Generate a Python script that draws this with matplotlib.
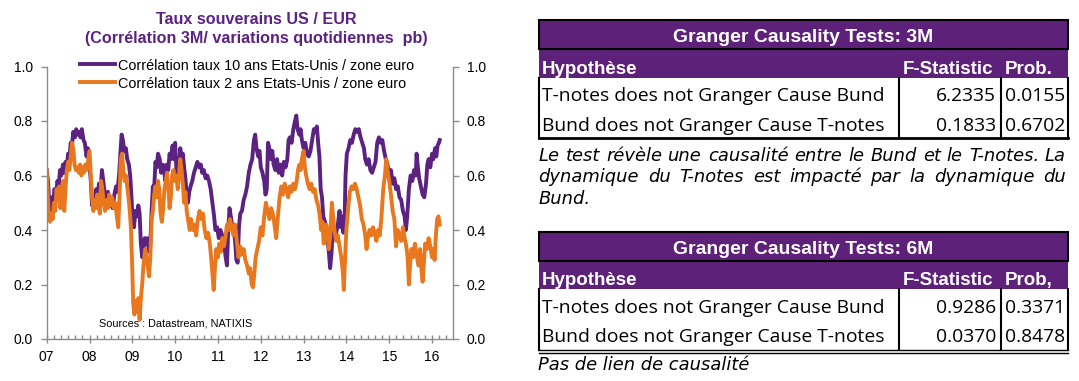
import matplotlib
matplotlib.use('Agg')
import matplotlib.pyplot as plt
from matplotlib.patches import Rectangle
from matplotlib.lines import Line2D
from matplotlib.ticker import MultipleLocator

plt.rcParams['font.family'] = ['Liberation Sans', 'DejaVu Sans']

# ---------------- data ----------------
chart_title = ["Taux souverains US / EUR", "(Corrélation 3M/ variations quotidiennes  pb)"]
series_labels = ["Corrélation taux 10 ans Etats-Unis / zone euro",
                 "Corrélation taux 2 ans Etats-Unis / zone euro"]
source_text = "Sources : Datastream, NATIXIS"
year_ticks = [2007, 2008, 2009, 2010, 2011, 2012, 2013, 2014, 2015, 2016]
year_labels = ["07", "08", "09", "10", "11", "12", "13", "14", "15", "16"]
ytick_vals = [0.0, 0.2, 0.4, 0.6, 0.8, 1.0]

ten_year_t = [
    2007.00, 2007.03, 2007.06, 2007.09, 2007.12, 2007.15, 2007.18, 2007.22, 2007.25, 2007.28,
    2007.31, 2007.34, 2007.38, 2007.41, 2007.44, 2007.47, 2007.50, 2007.53, 2007.56, 2007.59,
    2007.62, 2007.66, 2007.69, 2007.72, 2007.76, 2007.79, 2007.82, 2007.86, 2007.89, 2007.93,
    2007.96, 2008.00, 2008.03, 2008.06, 2008.09, 2008.12, 2008.16, 2008.19, 2008.22, 2008.26,
    2008.29, 2008.32, 2008.36, 2008.39, 2008.43, 2008.46, 2008.50, 2008.54, 2008.58, 2008.62,
    2008.65, 2008.69, 2008.72, 2008.75, 2008.78, 2008.81, 2008.85, 2008.88, 2008.92, 2008.95,
    2008.98, 2009.01, 2009.04, 2009.07, 2009.10, 2009.14, 2009.17, 2009.20, 2009.23, 2009.26,
    2009.29, 2009.32, 2009.35, 2009.39, 2009.42, 2009.45, 2009.48, 2009.51, 2009.54, 2009.57,
    2009.60, 2009.64, 2009.67, 2009.71, 2009.74, 2009.77, 2009.80, 2009.84, 2009.87, 2009.90,
    2009.94, 2009.97, 2010.00, 2010.03, 2010.06, 2010.09, 2010.12, 2010.15, 2010.18, 2010.21,
    2010.24, 2010.27, 2010.30, 2010.33, 2010.36, 2010.40, 2010.44, 2010.48, 2010.52, 2010.56,
    2010.60, 2010.63, 2010.67, 2010.71, 2010.75, 2010.79, 2010.83, 2010.87, 2010.91, 2010.94,
    2010.98, 2011.02, 2011.06, 2011.10, 2011.14, 2011.18, 2011.21, 2011.24, 2011.27, 2011.30,
    2011.33, 2011.37, 2011.40, 2011.43, 2011.46, 2011.49, 2011.52, 2011.56, 2011.60, 2011.64,
    2011.68, 2011.72, 2011.76, 2011.80, 2011.84, 2011.87, 2011.90, 2011.94, 2011.97, 2012.00,
    2012.04, 2012.08, 2012.11, 2012.14, 2012.17, 2012.20, 2012.24, 2012.27, 2012.30, 2012.34,
    2012.38, 2012.42, 2012.46, 2012.50, 2012.54, 2012.58, 2012.62, 2012.65, 2012.68, 2012.72,
    2012.76, 2012.80, 2012.83, 2012.86, 2012.90, 2012.93, 2012.96, 2013.00, 2013.04, 2013.08,
    2013.12, 2013.16, 2013.20, 2013.24, 2013.28, 2013.31, 2013.34, 2013.37, 2013.40, 2013.43,
    2013.46, 2013.50, 2013.53, 2013.56, 2013.59, 2013.62, 2013.65, 2013.68, 2013.72, 2013.76,
    2013.80, 2013.84, 2013.87, 2013.90, 2013.93, 2013.96, 2013.98, 2014.01, 2014.05, 2014.09,
    2014.13, 2014.17, 2014.21, 2014.25, 2014.29, 2014.33, 2014.37, 2014.41, 2014.44, 2014.48,
    2014.52, 2014.56, 2014.60, 2014.64, 2014.68, 2014.72, 2014.76, 2014.80, 2014.84, 2014.88,
    2014.92, 2014.96, 2015.00, 2015.04, 2015.08, 2015.12, 2015.16, 2015.20, 2015.24, 2015.28,
    2015.32, 2015.36, 2015.39, 2015.42, 2015.46, 2015.50, 2015.54, 2015.58, 2015.62, 2015.64,
    2015.67, 2015.70, 2015.74, 2015.78, 2015.82, 2015.86, 2015.89, 2015.92, 2015.96, 2016.00,
    2016.03, 2016.07, 2016.10, 2016.13, 2016.16, 2016.18]
ten_year_v = [
    0.62, 0.58, 0.50, 0.47, 0.52, 0.49, 0.55, 0.53, 0.58, 0.56,
    0.62, 0.60, 0.64, 0.61, 0.65, 0.63, 0.68, 0.66, 0.72, 0.71,
    0.76, 0.74, 0.77, 0.75, 0.76, 0.74, 0.77, 0.73, 0.72, 0.67,
    0.70, 0.64, 0.58, 0.49, 0.52, 0.50, 0.55, 0.51, 0.57, 0.55,
    0.62, 0.58, 0.53, 0.50, 0.54, 0.49, 0.51, 0.48, 0.53, 0.56,
    0.54, 0.60, 0.68, 0.75, 0.73, 0.69, 0.70, 0.66, 0.64, 0.60,
    0.52, 0.43, 0.41, 0.47, 0.45, 0.49, 0.46, 0.35, 0.30, 0.33,
    0.37, 0.35, 0.37, 0.32, 0.35, 0.47, 0.56, 0.55, 0.65, 0.63,
    0.68, 0.66, 0.61, 0.64, 0.62, 0.58, 0.64, 0.62, 0.68, 0.66,
    0.71, 0.66, 0.72, 0.62, 0.57, 0.63, 0.70, 0.66, 0.68, 0.63,
    0.59, 0.52, 0.50, 0.54, 0.56, 0.58, 0.61, 0.63, 0.65, 0.63,
    0.64, 0.61, 0.62, 0.59, 0.60, 0.58, 0.55, 0.50, 0.45, 0.40,
    0.41, 0.37, 0.40, 0.38, 0.36, 0.30, 0.27, 0.40, 0.48, 0.45,
    0.42, 0.40, 0.36, 0.29, 0.28, 0.41, 0.46, 0.47, 0.51, 0.53,
    0.56, 0.61, 0.64, 0.66, 0.73, 0.75, 0.70, 0.67, 0.69, 0.63,
    0.61, 0.58, 0.53, 0.55, 0.72, 0.70, 0.66, 0.69, 0.64, 0.62,
    0.66, 0.61, 0.64, 0.60, 0.65, 0.63, 0.66, 0.73, 0.74, 0.72,
    0.77, 0.80, 0.82, 0.77, 0.75, 0.77, 0.73, 0.70, 0.72, 0.68,
    0.67, 0.69, 0.73, 0.77, 0.76, 0.78, 0.72, 0.67, 0.55, 0.52,
    0.45, 0.43, 0.40, 0.36, 0.32, 0.26, 0.31, 0.40, 0.37, 0.39,
    0.42, 0.47, 0.41, 0.45, 0.39, 0.45, 0.60, 0.68, 0.70, 0.73,
    0.72, 0.75, 0.77, 0.76, 0.77, 0.74, 0.72, 0.70, 0.66, 0.64,
    0.66, 0.62, 0.61, 0.63, 0.65, 0.72, 0.74, 0.72, 0.73, 0.69,
    0.66, 0.64, 0.60, 0.62, 0.57, 0.59, 0.55, 0.56, 0.52, 0.51,
    0.47, 0.45, 0.40, 0.45, 0.55, 0.60, 0.58, 0.62, 0.60, 0.68,
    0.63, 0.59, 0.56, 0.53, 0.52, 0.57, 0.64, 0.66, 0.63, 0.68,
    0.66, 0.70, 0.67, 0.71, 0.72, 0.73]

two_year_t = [
    2007.00, 2007.02, 2007.05, 2007.08, 2007.11, 2007.14, 2007.17, 2007.20, 2007.23, 2007.26,
    2007.29, 2007.32, 2007.35, 2007.38, 2007.41, 2007.44, 2007.47, 2007.50, 2007.53, 2007.56,
    2007.59, 2007.62, 2007.65, 2007.68, 2007.72, 2007.75, 2007.78, 2007.81, 2007.84, 2007.87,
    2007.90, 2007.93, 2007.97, 2008.00, 2008.03, 2008.06, 2008.09, 2008.12, 2008.15, 2008.18,
    2008.21, 2008.24, 2008.27, 2008.30, 2008.33, 2008.36, 2008.40, 2008.43, 2008.46, 2008.50,
    2008.53, 2008.57, 2008.60, 2008.64, 2008.67, 2008.70, 2008.73, 2008.76, 2008.79, 2008.82,
    2008.85, 2008.88, 2008.91, 2008.94, 2008.97, 2009.00, 2009.02, 2009.05, 2009.08, 2009.11,
    2009.14, 2009.17, 2009.20, 2009.23, 2009.26, 2009.30, 2009.33, 2009.36, 2009.39, 2009.42,
    2009.45, 2009.48, 2009.51, 2009.54, 2009.57, 2009.60, 2009.63, 2009.66, 2009.69, 2009.72,
    2009.75, 2009.78, 2009.81, 2009.84, 2009.87, 2009.90, 2009.93, 2009.96, 2010.00, 2010.03,
    2010.06, 2010.09, 2010.12, 2010.15, 2010.18, 2010.21, 2010.24, 2010.27, 2010.30, 2010.34,
    2010.37, 2010.41, 2010.45, 2010.49, 2010.53, 2010.57, 2010.61, 2010.65, 2010.69, 2010.73,
    2010.77, 2010.81, 2010.84, 2010.87, 2010.90, 2010.93, 2010.96, 2011.00, 2011.03, 2011.07,
    2011.10, 2011.14, 2011.18, 2011.21, 2011.25, 2011.28, 2011.32, 2011.36, 2011.40, 2011.44,
    2011.48, 2011.52, 2011.56, 2011.60, 2011.64, 2011.68, 2011.72, 2011.75, 2011.79, 2011.82,
    2011.85, 2011.88, 2011.92, 2011.96, 2012.00, 2012.04, 2012.08, 2012.12, 2012.16, 2012.20,
    2012.24, 2012.28, 2012.32, 2012.36, 2012.40, 2012.44, 2012.48, 2012.52, 2012.56, 2012.60,
    2012.64, 2012.68, 2012.72, 2012.76, 2012.80, 2012.84, 2012.87, 2012.90, 2012.93, 2012.96,
    2013.00, 2013.03, 2013.06, 2013.10, 2013.14, 2013.18, 2013.22, 2013.26, 2013.30, 2013.34,
    2013.38, 2013.41, 2013.44, 2013.47, 2013.50, 2013.53, 2013.56, 2013.59, 2013.62, 2013.66,
    2013.69, 2013.72, 2013.76, 2013.80, 2013.84, 2013.88, 2013.92, 2013.94, 2013.97, 2014.00,
    2014.04, 2014.08, 2014.12, 2014.16, 2014.20, 2014.24, 2014.28, 2014.32, 2014.36, 2014.40,
    2014.44, 2014.47, 2014.50, 2014.54, 2014.58, 2014.62, 2014.66, 2014.70, 2014.74, 2014.78,
    2014.82, 2014.86, 2014.90, 2014.93, 2014.96, 2015.00, 2015.04, 2015.08, 2015.12, 2015.16,
    2015.20, 2015.24, 2015.28, 2015.32, 2015.36, 2015.40, 2015.43, 2015.46, 2015.49, 2015.52,
    2015.56, 2015.60, 2015.64, 2015.68, 2015.72, 2015.75, 2015.78, 2015.81, 2015.84, 2015.88,
    2015.92, 2015.96, 2016.00, 2016.03, 2016.06, 2016.09, 2016.12, 2016.15, 2016.18]
two_year_v = [
    0.62, 0.55, 0.45, 0.43, 0.46, 0.44, 0.50, 0.47, 0.55, 0.51,
    0.56, 0.48, 0.54, 0.58, 0.47, 0.55, 0.62, 0.65, 0.62, 0.67,
    0.72, 0.70, 0.64, 0.62, 0.63, 0.61, 0.64, 0.60, 0.63, 0.61,
    0.64, 0.62, 0.66, 0.69, 0.60, 0.52, 0.47, 0.51, 0.48, 0.53,
    0.50, 0.46, 0.58, 0.55, 0.50, 0.47, 0.51, 0.48, 0.53, 0.49,
    0.52, 0.48, 0.50, 0.45, 0.41, 0.52, 0.66, 0.68, 0.62, 0.58,
    0.60, 0.56, 0.52, 0.47, 0.40, 0.25, 0.13, 0.09, 0.14, 0.10,
    0.15, 0.07, 0.15, 0.20, 0.27, 0.33, 0.30, 0.27, 0.23, 0.30,
    0.44, 0.47, 0.53, 0.56, 0.52, 0.58, 0.55, 0.46, 0.43, 0.48,
    0.55, 0.58, 0.61, 0.56, 0.48, 0.52, 0.60, 0.62, 0.58, 0.60,
    0.55, 0.60, 0.66, 0.62, 0.57, 0.50, 0.54, 0.47, 0.44, 0.40,
    0.44, 0.40, 0.42, 0.38, 0.44, 0.47, 0.44, 0.46, 0.40, 0.37,
    0.39, 0.35, 0.30, 0.24, 0.18, 0.26, 0.33, 0.30, 0.35, 0.32,
    0.37, 0.34, 0.38, 0.42, 0.40, 0.44, 0.41, 0.38, 0.42, 0.36,
    0.30, 0.34, 0.31, 0.33, 0.29, 0.27, 0.24, 0.26, 0.20, 0.19,
    0.24, 0.30, 0.33, 0.36, 0.41, 0.38, 0.45, 0.50, 0.47, 0.44,
    0.48, 0.46, 0.42, 0.37, 0.45, 0.52, 0.56, 0.53, 0.57, 0.55,
    0.52, 0.56, 0.54, 0.57, 0.55, 0.58, 0.62, 0.64, 0.62, 0.66,
    0.69, 0.63, 0.60, 0.57, 0.55, 0.57, 0.54, 0.55, 0.51, 0.49,
    0.45, 0.40, 0.43, 0.35, 0.38, 0.42, 0.39, 0.33, 0.37, 0.50,
    0.45, 0.40, 0.36, 0.38, 0.34, 0.30, 0.24, 0.18, 0.30, 0.40,
    0.48, 0.54, 0.56, 0.55, 0.57, 0.55, 0.52, 0.49, 0.44, 0.42,
    0.38, 0.33, 0.37, 0.40, 0.38, 0.41, 0.39, 0.36, 0.40, 0.38,
    0.45, 0.55, 0.60, 0.66, 0.62, 0.58, 0.53, 0.47, 0.44, 0.34,
    0.40, 0.38, 0.36, 0.41, 0.37, 0.34, 0.30, 0.20, 0.28, 0.33,
    0.30, 0.35, 0.31, 0.27, 0.33, 0.26, 0.21, 0.28, 0.35, 0.33,
    0.37, 0.34, 0.30, 0.33, 0.29, 0.38, 0.44, 0.45, 0.42]

table_titles = ["Granger Causality Tests: 3M", "Granger Causality Tests: 6M"]
table_headers = [["Hypothèse", "F-Statistic", "Prob."],
                 ["Hypothèse", "F-Statistic", "Prob,"]]
hypotheses = ["T-notes does not Granger Cause Bund", "Bund does not Granger Cause T-notes"]
fstat_3m = [6.2335, 0.1833]
prob_3m = [0.0155, 0.6702]
fstat_6m = [0.9286, 0.0370]
prob_6m = [0.3371, 0.8478]
note_3m = ["Le test révèle une causalité entre le Bund et le T-notes. La",
           "dynamique du T-notes est impacté par la dynamique du",
           "Bund."]
note_6m = ["Pas de lien de causalité"]

# ---------------- figure ----------------
W, H = 1079, 381
fig = plt.figure(figsize=(W / 100, H / 100), dpi=100)
fig.patch.set_facecolor('white')
renderer = fig.canvas.get_renderer()


def FX(x):
    return x / W


def FY(y):
    return 1 - y / H


PURPLE = '#5B2282'
ORANGE = '#E8771E'
TAB_PURPLE = '#5E2179'
GRAY = '#8C8C8C'

# ---------------- chart ----------------
ax = fig.add_axes([FX(46.7), FY(339), (453 - 46.7) / W, (339 - 66.5) / H])
ax.plot(ten_year_t, ten_year_v, color=PURPLE, lw=2.8, solid_joinstyle='round',
        label=series_labels[0])
ax.plot(two_year_t, two_year_v, color=ORANGE, lw=2.8, solid_joinstyle='round',
        label=series_labels[1])
ax.set_xlim(2007, 2016.49)
ax.set_ylim(0, 1)
ax.set_xticks(year_ticks)
ax.set_xticklabels(year_labels)
ax.xaxis.set_minor_locator(MultipleLocator(1 / 6))
ax.set_yticks(ytick_vals)
ax.set_yticklabels([f"{v:.1f}" for v in ytick_vals])
ax.tick_params(axis='x', which='major', direction='inout', length=6, width=1,
               color=GRAY, pad=5, labelsize=10, labelcolor='black')
ax.tick_params(axis='x', which='minor', direction='in', length=3, width=1, color=GRAY)
ax.tick_params(axis='y', which='major', direction='out', length=4, width=1, color=GRAY,
               pad=6, labelsize=10, left=True, right=True, labelleft=True, labelright=True)
ax.spines['top'].set_visible(False)
for s in ['left', 'right', 'bottom']:
    ax.spines[s].set_color(GRAY)
    ax.spines[s].set_linewidth(1)

leg = ax.legend(loc='upper left', bbox_to_anchor=(FX(80), FY(58.5)),
                bbox_transform=fig.transFigure, frameon=False, fontsize=10.4,
                borderpad=0, borderaxespad=0, handlelength=2.4, handletextpad=0.25,
                labelspacing=0.28)

fig.text(FX(256), FY(24.5), chart_title[0], ha='center', va='baseline',
         fontsize=11.6, fontweight='bold', color=PURPLE)
fig.text(FX(256), FY(43), chart_title[1], ha='center', va='baseline',
         fontsize=11.6, fontweight='bold', color=PURPLE)
fig.text(FX(99), FY(326.7), source_text, ha='left', va='baseline', fontsize=7.8)


# ---------------- tables ----------------
def fit_size(text, target_px, **kw):
    t = fig.text(0, 0, text, fontsize=10, **kw)
    w = t.get_window_extent(renderer).width
    t.remove()
    return 10 * target_px / w


BODY = dict(family=['Open Sans', 'DejaVu Sans'])
BOLD = dict(family=['Liberation Sans', 'DejaVu Sans'], fontweight='bold')
NOTE = dict(family=['DejaVu Sans'], style='italic')

body_fs = fit_size(hypotheses[0], 341, **BODY)
title_fs = fit_size(table_titles[0], 260, **BOLD)
head_fs = fit_size(table_headers[0][0], 96, **BOLD)
note_fs = fit_size(note_6m[0], 210, **NOTE)

X0, X1 = 538.5, 1068
C1, C2 = 898.5, 1001


def hline(y, x0, x1, lw):
    fig.add_artist(Line2D([FX(x0), FX(x1)], [FY(y), FY(y)], transform=fig.transFigure,
                          color='black', lw=lw))


def vline(x, y0, y1, lw):
    fig.add_artist(Line2D([FX(x), FX(x)], [FY(y0), FY(y1)], transform=fig.transFigure,
                          color='black', lw=lw))


def draw_table(top, title, headers, fvals, pvals, double_bottom):
    t_bot = top + 29.3
    h_bot = top + 57.7
    b_bot = top + 118
    fig.add_artist(Rectangle((FX(X0), FY(h_bot)), FX(X1) - FX(X0), FY(t_bot) - FY(h_bot),
                             transform=fig.transFigure, facecolor=TAB_PURPLE,
                             edgecolor='none'))
    fig.add_artist(Rectangle((FX(X0), FY(t_bot)), FX(X1) - FX(X0), FY(top) - FY(t_bot),
                             transform=fig.transFigure, facecolor=TAB_PURPLE,
                             edgecolor='black', lw=1.5))
    for x in (X0 + 0.5, C1, C2, X1 - 0.5):
        vline(x, h_bot, b_bot, 1.5)
    if double_bottom:
        hline(b_bot, X0, X1, 1.0)
        hline(b_bot + 2.8, X0, X1, 1.0)
    else:
        hline(b_bot, X0, X1, 2.0)
    fig.text(FX((X0 + X1) / 2), FY(top + 22.5), title, ha='center', va='baseline',
             color='white', fontsize=title_fs, **BOLD)
    fig.text(FX(542), FY(top + 53.5), headers[0], ha='left', va='baseline',
             color='white', fontsize=head_fs, **BOLD)
    fig.text(FX(903), FY(top + 53.5), headers[1], ha='left', va='baseline',
             color='white', fontsize=head_fs, **BOLD)
    fig.text(FX(1005), FY(top + 53.5), headers[2], ha='left', va='baseline',
             color='white', fontsize=head_fs, **BOLD)
    for i, (hyp, fv, pv) in enumerate(zip(hypotheses, fvals, pvals)):
        yb = top + 81 + i * 29.5
        fig.text(FX(541.5), FY(yb), hyp, ha='left', va='baseline', color='black',
                 fontsize=body_fs, **BODY)
        fig.text(FX(996), FY(yb), f"{fv:.4f}", ha='right', va='baseline', color='black',
                 fontsize=body_fs, **BODY)
        fig.text(FX(1065), FY(yb), f"{pv:.4f}", ha='right', va='baseline', color='black',
                 fontsize=body_fs, **BODY)


def justified_line(text, y, x0, x1, justify):
    words = text.split(' ')
    if not justify:
        fig.text(FX(x0), FY(y), text, ha='left', va='baseline', fontsize=note_fs, **NOTE)
        return
    widths = []
    for w in words:
        t = fig.text(0, 0, w, fontsize=note_fs, **NOTE)
        widths.append(t.get_window_extent(renderer).width)
        t.remove()
    gap = ((x1 - x0) - sum(widths)) / (len(words) - 1)
    x = x0
    for w, wd in zip(words, widths):
        fig.text(FX(x), FY(y), w, ha='left', va='baseline', fontsize=note_fs, **NOTE)
        x += wd + gap


draw_table(20, table_titles[0], table_headers[0], fstat_3m, prob_3m, False)
draw_table(231.7, table_titles[1], table_headers[1], fstat_6m, prob_6m, True)

note_baselines = [160.7, 182.3, 204.0]
for i, line in enumerate(note_3m):
    justified_line(line, note_baselines[i], 538.5, 1066, i < len(note_3m) - 1)
justified_line(note_6m[0], 370.0, 538.5, 1066, False)

fig.savefig('out.png', dpi=100, facecolor='white')
